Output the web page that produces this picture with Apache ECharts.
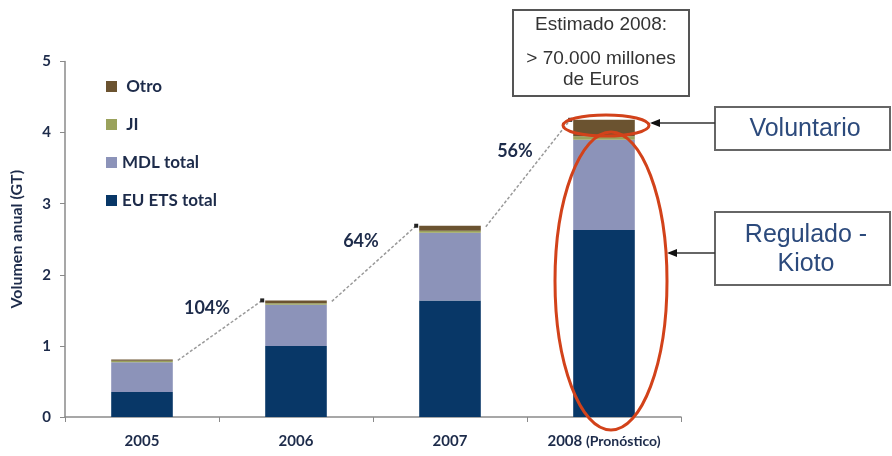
<!DOCTYPE html>
<html><head><meta charset="utf-8">
<script src="https://cdn.jsdelivr.net/npm/echarts@6/dist/echarts.min.js"></script>
<style>html,body{margin:0;padding:0;background:#fff}#c{width:892px;height:456px}</style>
</head><body><div id="c"></div>
<script>
const categories = ['2005', '2006', '2007', '2008 (Pronóstico)'];
const euEts = [0.35, 1.00, 1.64, 2.63];
const mdl = [0.42, 0.58, 0.95, 1.27];
const ji = [0.02, 0.02, 0.03, 0.05];
const otro = [0.02, 0.04, 0.07, 0.23];
const growthLabels = ['104%', '64%', '56%'];
const yTicks = [0, 1, 2, 3, 4, 5];

const totals = categories.map((_, i) => euEts[i] + mdl[i] + ji[i] + otro[i]);
const connectors = growthLabels.map((lab, i) => [i, totals[i], totals[i + 1], lab]);

const FONT = 'Lato';
const TXT = '#1d2b4a';
const chart = echarts.init(document.getElementById('c'));
const barW = 0.4;

chart.setOption({
  animation: false,
  grid: { left: 65, right: 211, top: 61.5, bottom: 39 },
  legend: {
    orient: 'vertical', left: 101, top: 73, itemWidth: 11, itemHeight: 11, itemGap: 21,
    data: ['Otro', 'JI', 'MDL total', 'EU ETS total'],
    formatter: n => (n === 'Otro' || n === 'JI') ? ' ' + n : n,
    textStyle: { fontFamily: FONT, fontWeight: 'bold', fontSize: 17, color: TXT },
    icon: 'rect'
  },
  xAxis: {
    type: 'category', data: categories,
    axisLine: { lineStyle: { color: '#8a8a8a', width: 1.5 } },
    axisTick: { show: true, length: 5, lineStyle: { color: '#8a8a8a' } },
    axisLabel: {
      interval: 0, margin: 17, fontFamily: FONT, fontWeight: 'bold', fontSize: 15, color: TXT,
      formatter: v => v.indexOf('(') > 0 ? v.replace(/ \((.*)\)/, ' {s|($1)}') : v,
      rich: { s: { fontFamily: FONT, fontWeight: 'bold', fontSize: 14, color: TXT } }
    }
  },
  yAxis: {
    type: 'value', min: 0, max: 5, interval: 1,
    name: 'Volumen anual (GT)', nameLocation: 'middle', nameGap: 40, nameRotate: 90,
    nameTextStyle: { fontFamily: FONT, fontWeight: 'bold', fontSize: 16, color: TXT },
    axisLine: { show: true, lineStyle: { color: '#8a8a8a', width: 1.5 } },
    axisTick: { show: true, length: 5, lineStyle: { color: '#8a8a8a' } },
    splitLine: { show: false },
    axisLabel: { margin: 14, fontFamily: FONT, fontWeight: 'bold', fontSize: 15, color: TXT,
      formatter: v => yTicks.indexOf(v) >= 0 ? String(v) : '' }
  },
  series: [
    { name: 'EU ETS total', type: 'bar', stack: 't', barWidth: '40%', data: euEts, itemStyle: { color: '#083767' } },
    { name: 'MDL total', type: 'bar', stack: 't', data: mdl, itemStyle: { color: '#8c93b9' } },
    { name: 'JI', type: 'bar', stack: 't', data: ji, itemStyle: { color: '#9aa25c' } },
    { name: 'Otro', type: 'bar', stack: 't', data: otro, itemStyle: { color: '#6b5330' } },
    {
      type: 'custom', name: 'conn', silent: true, z: 5, data: connectors,
      renderItem: function (params, api) {
        const i = api.value(0);
        const p1 = api.coord([i, api.value(1)]);
        const p2 = api.coord([i + 1, api.value(2)]);
        const hw = api.size([1, 0])[0] * barW / 2;
        const x1 = p1[0] + hw + 5, y1 = p1[1] + 1;
        const x2 = p2[0] - hw - 3, y2 = p2[1];
        const mx = (x1 + x2) / 2, my = (y1 + y2) / 2;
        return { type: 'group', children: [
          { type: 'line', shape: { x1: x1, y1: y1, x2: x2, y2: y2 },
            style: { stroke: '#9a9a9a', lineWidth: 1.5, lineDash: [3, 2] } },
          { type: 'rect', shape: { x: x2 - 2, y: y2 - 2, width: 4, height: 4 }, style: { fill: '#222' } },
          { type: 'text', x: mx - 13, y: my - 22,
            style: { text: connectors[params.dataIndex][3], fill: TXT, font: 'bold 18px ' + FONT,
              textAlign: 'center', textVerticalAlign: 'middle' } }
        ]};
      }
    }
  ],
  graphic: [
    { type: 'rect', shape: { x: 513, y: 10, width: 176, height: 86 },
      style: { fill: '#fff', stroke: '#555', lineWidth: 2 } },
    { type: 'text', x: 601, y: 25, style: { text: 'Estimado 2008:', font: '19px "Liberation Sans"', fill: '#333', textAlign: 'center', textVerticalAlign: 'middle' } },
    { type: 'text', x: 601, y: 59, style: { text: '> 70.000 millones', font: '19px "Liberation Sans"', fill: '#333', textAlign: 'center', textVerticalAlign: 'middle' } },
    { type: 'text', x: 601, y: 80, style: { text: 'de Euros', font: '19px "Liberation Sans"', fill: '#333', textAlign: 'center', textVerticalAlign: 'middle' } },

    { type: 'ellipse', z: 20, shape: { cx: 606, cy: 125.5, rx: 43, ry: 10.5 },
      style: { fill: 'none', stroke: '#d2421a', lineWidth: 3 } },
    { type: 'ellipse', z: 20, shape: { cx: 611, cy: 281, rx: 56, ry: 149 },
      style: { fill: 'none', stroke: '#d2421a', lineWidth: 3 } },

    { type: 'rect', shape: { x: 715, y: 107, width: 175, height: 43 },
      style: { fill: '#fff', stroke: '#666', lineWidth: 2 } },
    { type: 'text', x: 805, y: 129, style: { text: 'Voluntario', font: '25px "Liberation Sans"', fill: '#2c4a7c', textAlign: 'center', textVerticalAlign: 'middle' } },
    { type: 'rect', shape: { x: 715, y: 212, width: 175, height: 73 },
      style: { fill: '#fff', stroke: '#666', lineWidth: 2 } },
    { type: 'text', x: 806, y: 235, style: { text: 'Regulado -', font: '25px "Liberation Sans"', fill: '#2c4a7c', textAlign: 'center', textVerticalAlign: 'middle' } },
    { type: 'text', x: 806, y: 264, style: { text: 'Kioto', font: '25px "Liberation Sans"', fill: '#2c4a7c', textAlign: 'center', textVerticalAlign: 'middle' } },

    { type: 'line', shape: { x1: 715, y1: 123, x2: 652, y2: 123 }, style: { stroke: '#333', lineWidth: 1.5 } },
    { type: 'polygon', shape: { points: [[650, 123], [660, 119], [660, 127]] }, style: { fill: '#111' } },
    { type: 'line', shape: { x1: 715, y1: 253, x2: 669, y2: 253 }, style: { stroke: '#333', lineWidth: 1.5 } },
    { type: 'polygon', shape: { points: [[667, 253], [677, 249], [677, 257]] }, style: { fill: '#111' } }
  ]
});
</script></body></html>
